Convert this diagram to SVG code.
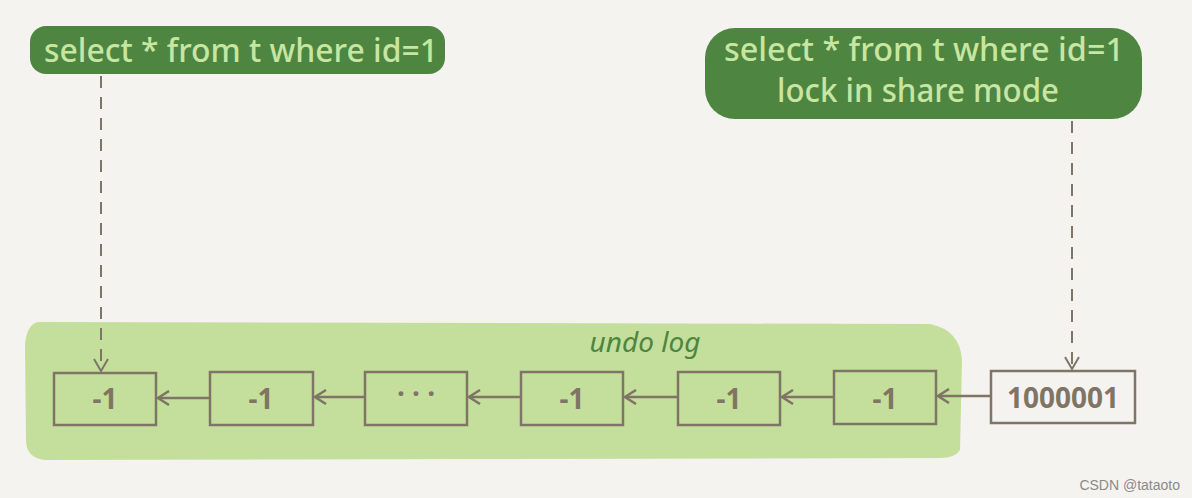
<svg xmlns="http://www.w3.org/2000/svg" width="1192" height="498" viewBox="0 0 1192 498">
<style>
.lbl{fill:#4e8540}
.lt{font-family:"Noto Sans","DejaVu Sans",sans-serif;font-size:32px;font-weight:500;fill:#c6e6a2}
.box{fill:none;stroke:#7f7566;stroke-width:2.5}
.bt{font-family:"Noto Sans","DejaVu Sans",sans-serif;font-size:28px;font-weight:bold;fill:#7f7566;text-anchor:middle}
.ln{stroke:#7f7566;stroke-width:2.5;fill:none}
.dash{stroke:#7f7566;stroke-width:2;stroke-dasharray:12 9;fill:none}
</style>
<defs>
<marker id="ah" markerWidth="14" markerHeight="16" refX="12" refY="8" orient="auto" markerUnits="userSpaceOnUse">
<path d="M1,1 L12,8 L1,15" fill="none" stroke="#7f7566" stroke-width="2.5"/>
</marker>
<marker id="ad" markerWidth="16" markerHeight="14" refX="8" refY="13" orient="0" markerUnits="userSpaceOnUse">
<path d="M1,1 L8,13 L15,1" fill="none" stroke="#7f7566" stroke-width="2"/>
</marker>
</defs>
<rect width="1192" height="498" fill="#f4f3ef"/>
<g id="undo-log">
<path d="M40,322 L930,324 Q960,330 962,360 L960,450 Q955,458 940,458 L45,460 Q26,458 26,440 L25,345 Q27,322 40,322 Z" fill="#c4df9b"/>
<text x="645" y="352" font-family="'Noto Sans','DejaVu Sans',sans-serif" font-size="28" font-style="italic" fill="#4e8540" text-anchor="middle">undo log</text>
</g>
<g id="q1">
<rect class="lbl" x="30" y="26" width="415" height="48" rx="16"/>
<text class="lt" x="44" y="62" textLength="394" lengthAdjust="spacingAndGlyphs">select * from t where id=1</text>
</g>
<g id="q2">
<rect class="lbl" x="705" y="28" width="437" height="91" rx="30"/>
<text class="lt" x="724" y="61" textLength="400" lengthAdjust="spacingAndGlyphs">select * from t where id=1</text>
<text class="lt" x="777" y="102" textLength="282" lengthAdjust="spacingAndGlyphs">lock in share mode</text>
</g>
<g id="n1"><rect class="box" x="54" y="373" width="102" height="52"/><text class="bt" x="105" y="409">-1</text></g>
<g id="n2"><rect class="box" x="210" y="372" width="103" height="53"/><text class="bt" x="261" y="409">-1</text></g>
<g id="n3"><rect class="box" x="365" y="372" width="102" height="53"/><text class="bt" x="416" y="404">· · ·</text></g>
<g id="n4"><rect class="box" x="521" y="372" width="102" height="53"/><text class="bt" x="572" y="409">-1</text></g>
<g id="n5"><rect class="box" x="678" y="372" width="102" height="53"/><text class="bt" x="729" y="409">-1</text></g>
<g id="n6"><rect class="box" x="834" y="371" width="102" height="53"/><text class="bt" x="885" y="409">-1</text></g>
<g id="n7"><rect class="box" x="991" y="371" width="144" height="52" fill="#f7f6f2" stroke="#7f7566" stroke-width="2.5"/><text class="bt" x="1063" y="408" font-weight="600">1000001</text></g>
<g id="connectors">
<line class="ln" x1="210" y1="398" x2="158" y2="398" marker-end="url(#ah)"/>
<line class="ln" x1="365" y1="397" x2="315" y2="397" marker-end="url(#ah)"/>
<line class="ln" x1="521" y1="397" x2="469" y2="397" marker-end="url(#ah)"/>
<line class="ln" x1="678" y1="397" x2="625" y2="397" marker-end="url(#ah)"/>
<line class="ln" x1="834" y1="397" x2="782" y2="397" marker-end="url(#ah)"/>
<line class="ln" x1="991" y1="396" x2="938" y2="396" marker-end="url(#ah)"/>
<line class="dash" x1="101" y1="76" x2="101" y2="371" marker-end="url(#ad)"/>
<line class="dash" x1="1072" y1="121" x2="1072" y2="369" marker-end="url(#ad)"/>
</g>
<text x="1180" y="490" font-family="'Liberation Sans',sans-serif" font-size="14" fill="#8a8a8a" text-anchor="end">CSDN @tataoto</text>
</svg>
